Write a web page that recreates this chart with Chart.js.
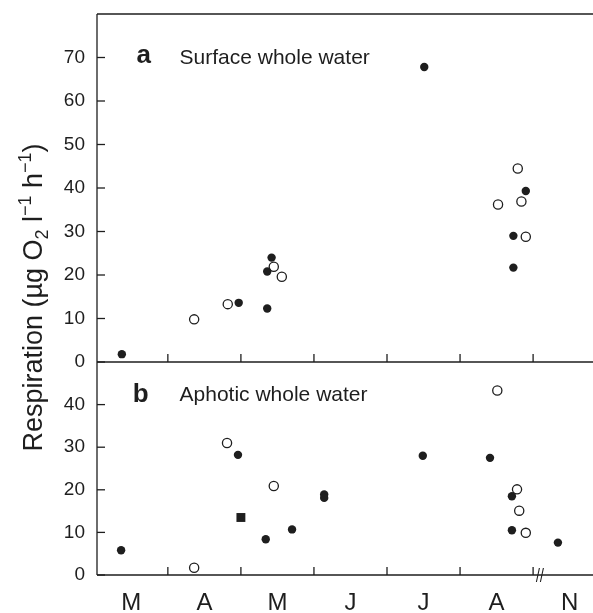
<!DOCTYPE html>
<html><head><meta charset="utf-8">
<script src="https://cdn.jsdelivr.net/npm/chart.js@4"></script>
<style>html,body{margin:0;padding:0;background:#fff}</style>
</head><body>
<canvas id="c" width="593" height="613"></canvas>
<script>
// x values are in months counted from 1 March (1 = 1 April, ... 6 = 1 September)
const monthLabels = ['M','A','M','J','J','A','N'];
const monthBoundaries = [1,2,3,4,5,6];
const surfaceTicks = [0,10,20,30,40,50,60,70];
const aphoticTicks = [0,10,20,30,40];

const surfaceFilledX = [0.37, 1.97, 2.36, 2.36, 2.42, 4.51, 5.90, 5.73, 5.73];
const surfaceFilledY = [1.8, 13.6, 12.3, 20.8, 24.0, 67.8, 39.3, 29.0, 21.7];
const surfaceOpenX   = [1.36, 1.82, 2.45, 2.56, 5.79, 5.52, 5.84, 5.90];
const surfaceOpenY   = [9.8, 13.3, 21.9, 19.6, 44.5, 36.2, 36.9, 28.8];

const aphoticFilledX = [0.36, 1.96, 2.34, 2.70, 3.14, 3.14, 4.49, 5.41, 5.71, 5.71, 6.34];
const aphoticFilledY = [5.8, 28.2, 8.4, 10.7, 18.9, 18.1, 28.0, 27.5, 18.5, 10.5, 7.6];
const aphoticOpenX   = [1.36, 1.81, 2.45, 5.51, 5.78, 5.81, 5.90];
const aphoticOpenY   = [1.7, 31.0, 20.9, 43.3, 20.1, 15.1, 9.9];
const aphoticSquareX = [2.00];
const aphoticSquareY = [13.5];

const pts = (xs, ys) => xs.map((x, i) => ({x, y: ys[i]}));
const INK = '#1e1e1e';
const FONT = '"Liberation Sans", Arial, Helvetica, sans-serif';

const filled = {pointRadius: 4.2, pointBackgroundColor: INK, pointBorderColor: INK, pointBorderWidth: 0, showLine: false};
const open = {pointRadius: 4.6, pointBackgroundColor: '#fff', pointBorderColor: INK, pointBorderWidth: 1.3, showLine: false};

function line(ctx, x1, y1, x2, y2) { ctx.beginPath(); ctx.moveTo(x1, y1); ctx.lineTo(x2, y2); ctx.stroke(); }

const decor = {
  id: 'decor',
  afterDraw(chart) {
    const {ctx, chartArea: a, scales} = chart;
    const x = scales.x, ya = scales.yA, yb = scales.yB;
    ctx.save();
    ctx.strokeStyle = INK; ctx.lineWidth = 1.3;
    line(ctx, a.left, a.top, a.right, a.top);
    line(ctx, a.left, ya.bottom, a.right, ya.bottom);
    line(ctx, a.left, yb.bottom, a.right, yb.bottom);
    line(ctx, a.left, a.top, a.left, a.bottom);
    [ya, yb].forEach(s => s.ticks.forEach(t => {
      const p = s.getPixelForValue(t.value);
      line(ctx, a.left, p, a.left + 8, p);
    }));
    [ya.bottom, yb.bottom].forEach(b => monthBoundaries.forEach(m => {
      const p = x.getPixelForValue(m);
      line(ctx, p, b, p, b - 8);
    }));
    // axis break marks
    const bx = x.getPixelForValue(6.1), by = yb.bottom;
    ctx.lineWidth = 1.1;
    line(ctx, bx - 4, by + 7, bx - 1, by - 7);
    line(ctx, bx, by + 7, bx + 3, by - 7);
    // panel labels
    ctx.fillStyle = INK; ctx.textBaseline = 'alphabetic'; ctx.textAlign = 'left';
    ctx.font = 'bold 26px ' + FONT;
    ctx.fillText('a', x.getPixelForValue(0.57), ya.getPixelForValue(68.8));
    ctx.fillText('b', x.getPixelForValue(0.52), yb.getPixelForValue(40.7));
    ctx.font = '21px ' + FONT;
    ctx.fillText('Surface whole water', x.getPixelForValue(1.16), ya.getPixelForValue(68.6));
    ctx.fillText('Aphotic whole water', x.getPixelForValue(1.16), yb.getPixelForValue(40.8));
    // y axis title
    const size = 27;
    const parts = [
      {t: 'Respiration (\u00b5g O', k: 0}, {t: '2', k: -1}, {t: ' l', k: 0},
      {t: '\u22121', k: 1}, {t: ' h', k: 0}, {t: '\u22121', k: 1}, {t: ')', k: 0}
    ];
    const fontFor = k => (k === 0 ? size : Math.round(size * 0.65)) + 'px ' + FONT;
    let w = 0;
    parts.forEach(p => { ctx.font = fontFor(p.k); p.w = ctx.measureText(p.t).width; w += p.w; });
    ctx.translate(42, (a.top + a.bottom) / 2 + 3);
    ctx.rotate(-Math.PI / 2);
    let cx = -w / 2;
    parts.forEach(p => {
      ctx.font = fontFor(p.k);
      const dy = p.k === -1 ? size * 0.22 : (p.k === 1 ? -size * 0.42 : 0);
      ctx.fillText(p.t, cx, dy);
      cx += p.w;
    });
    ctx.restore();
  }
};

const yCommon = (ticksArr) => ({
  type: 'linear',
  position: 'left',
  stack: 'panels',
  grid: {display: false, drawTicks: false},
  border: {display: false},
  ticks: {color: INK, font: {family: FONT, size: 19}, padding: 12, stepSize: 10},
  afterBuildTicks: s => { s.ticks = ticksArr.map(v => ({value: v})); },
  afterFit: s => { s.width = 97; s.paddingTop = 0; s.paddingBottom = 0; }
});

new Chart(document.getElementById('c'), {
  type: 'scatter',
  data: {
    datasets: [
      Object.assign({label: 'surface filled', data: pts(surfaceFilledX, surfaceFilledY), yAxisID: 'yA'}, filled),
      Object.assign({label: 'surface open', data: pts(surfaceOpenX, surfaceOpenY), yAxisID: 'yA'}, open),
      Object.assign({label: 'aphotic filled', data: pts(aphoticFilledX, aphoticFilledY), yAxisID: 'yB'}, filled),
      Object.assign({label: 'aphotic open', data: pts(aphoticOpenX, aphoticOpenY), yAxisID: 'yB'}, open),
      {label: 'aphotic square', data: pts(aphoticSquareX, aphoticSquareY), yAxisID: 'yB', pointStyle: 'rect',
       pointRadius: 6.3, pointBackgroundColor: INK, pointBorderWidth: 0, showLine: false}
    ]
  },
  options: {
    responsive: false,
    animation: false,
    devicePixelRatio: 1,
    layout: {autoPadding: false, padding: {top: 14, left: 0, right: 0, bottom: 0}},
    plugins: {legend: {display: false}, tooltip: {enabled: false}},
    scales: {
      x: {
        type: 'linear', min: 0.03, max: 6.82, position: 'bottom',
        grid: {display: false, drawTicks: false},
        border: {display: false},
        afterBuildTicks: s => { s.ticks = monthLabels.map((m, i) => ({value: i + 0.5})); },
        afterFit: s => { s.height = 38; s.paddingLeft = 0; s.paddingRight = 0; },
        ticks: {color: INK, font: {family: FONT, size: 24, lineHeight: 1}, padding: 16, maxRotation: 0, autoSkip: false,
          callback: (v) => monthLabels[Math.floor(v)]}
      },
      yA: Object.assign(yCommon(surfaceTicks), {min: 0, max: 80, weight: 1, stackWeight: 348}),
      yB: Object.assign(yCommon(aphoticTicks), {min: 0, max: 50, weight: 0, stackWeight: 213})
    }
  },
  plugins: [decor]
});
</script>
</body></html>
